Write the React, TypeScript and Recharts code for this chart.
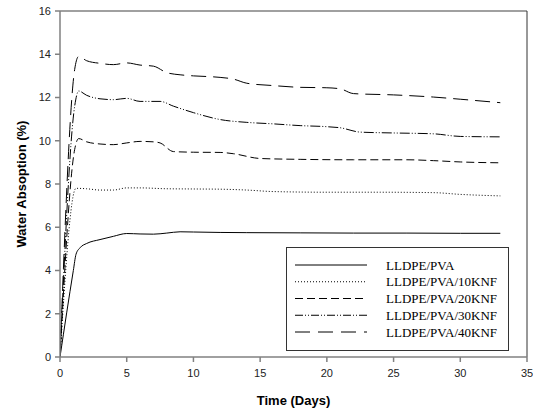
import React from 'react';
import { LineChart, Line, XAxis, YAxis, Legend, Label, ReferenceLine } from 'recharts';

const seriesNames = [
  'LLDPE/PVA',
  'LLDPE/PVA/10KNF',
  'LLDPE/PVA/20KNF',
  'LLDPE/PVA/30KNF',
  'LLDPE/PVA/40KNF',
];

const pvaDays = [0, 1, 1.2, 1.5, 2, 3, 4, 5, 6, 7, 8, 9, 10, 12, 14, 18, 22, 26, 30, 33];
const pvaValues = [0, 4.0, 4.75, 5.05, 5.25, 5.43, 5.58, 5.71, 5.69, 5.68, 5.73, 5.79, 5.78, 5.76, 5.75, 5.74, 5.73, 5.73, 5.72, 5.72];

const knf10Days = [0, 1.2, 2, 3, 4, 5, 6, 8, 10, 12, 14, 16, 20, 24, 28, 30, 33];
const knf10Values = [0, 7.8, 7.78, 7.72, 7.72, 7.82, 7.82, 7.78, 7.77, 7.76, 7.72, 7.65, 7.62, 7.62, 7.6, 7.52, 7.45];

const knf20Days = [0, 1.1, 1.4, 2, 3, 4, 5, 6, 7, 7.5, 8.5, 10, 12, 13, 15, 18, 22, 26, 28, 30, 33];
const knf20Values = [0, 9.6, 10.1, 9.95, 9.85, 9.82, 9.9, 9.97, 9.95, 9.9, 9.5, 9.47, 9.46, 9.4, 9.18, 9.14, 9.12, 9.12, 9.08, 9.02, 8.98];

const knf30Days = [0, 1.1, 1.4, 2, 3, 4, 5, 6, 7.5, 8.5, 10, 12, 14, 16, 18, 20, 21, 22.5, 25, 28, 30, 33];
const knf30Values = [0, 11.6, 12.3, 12.1, 11.94, 11.9, 11.96, 11.82, 11.82, 11.6, 11.3, 10.98, 10.85, 10.78, 10.7, 10.65, 10.6, 10.4, 10.36, 10.32, 10.2, 10.18];

const knf40Days = [0, 1.1, 1.4, 2, 3, 4, 5, 6, 7, 8, 9, 10, 12, 13, 14, 16, 18, 20, 21, 22, 25, 28, 30, 33];
const knf40Values = [0, 13.3, 13.9, 13.7, 13.58, 13.52, 13.6, 13.5, 13.45, 13.15, 13.05, 13.0, 12.93, 12.85, 12.66, 12.55, 12.47, 12.45, 12.4, 12.18, 12.12, 12.02, 11.92, 11.76];

const xTicks = [0, 5, 10, 15, 20, 25, 30, 35];
const yTicks = [0, 2, 4, 6, 8, 10, 12, 14, 16];

const toPoints = (days: number[], values: number[]) =>
  days.map((day, i) => ({ day, value: values[i] }));

const seriesData = [
  toPoints(pvaDays, pvaValues),
  toPoints(knf10Days, knf10Values),
  toPoints(knf20Days, knf20Values),
  toPoints(knf30Days, knf30Values),
  toPoints(knf40Days, knf40Values),
];

const plotDash = [undefined, '1 2', '8 4', '10 2 1 2 1 2', '15 7'];
const legendDash = [undefined, '1 2', '8 4', '8 2 1 2 1 2', '15 8'];

const tickStyle = { fill: '#222', fontSize: 11, fontFamily: '"Liberation Sans", Arial, sans-serif' };
const titleStyle = { fontSize: 13, fontWeight: 700, fontFamily: '"Liberation Sans", Arial, sans-serif', fill: '#000' };

const renderLegend = () => (
  <svg width={223} height={104} style={{ display: 'block' }}>
    <rect x={0.5} y={0.5} width={222} height={103} fill="#fff" stroke="#333" />
    {seriesNames.map((name, i) => {
      const y = 18 + i * 16.75;
      return (
        <g key={name}>
          <line x1={9} x2={81} y1={y} y2={y} stroke="#000" strokeWidth={1} strokeDasharray={legendDash[i]} />
          <text x={100} y={y} dominantBaseline="central" fontFamily='"Liberation Serif", "Times New Roman", serif' fontSize={13} fill="#000">
            {name}
          </text>
        </g>
      );
    })}
  </svg>
);

export default function App() {
  return (
    <div style={{ position: 'absolute', left: 0, top: 0, background: '#fff' }}>
      <LineChart width={533} height={411} margin={{ top: 11, right: 6, left: 0, bottom: 0 }}>
        <XAxis
          type="number"
          dataKey="day"
          domain={[0, 35]}
          ticks={xTicks}
          allowDataOverflow
          stroke="#808080"
          strokeWidth={1.5}
          tickSize={5}
          tickMargin={7}
          tick={tickStyle}
          height={54}
        >
          <Label value="Time (Days)" position="insideBottom" offset={6} style={titleStyle} />
        </XAxis>
        <YAxis
          type="number"
          dataKey="value"
          domain={[0, 16]}
          ticks={yTicks}
          allowDataOverflow
          stroke="#808080"
          strokeWidth={1.5}
          tickSize={5}
          tickMargin={4}
          tick={tickStyle}
          width={60}
        >
          <Label value="Water  Absoption (%)" angle={-90} position="insideLeft" offset={21} style={{ ...titleStyle, textAnchor: 'middle', whiteSpace: 'pre' }} />
        </YAxis>
        <ReferenceLine y={16} stroke="#808080" strokeWidth={1.5} />
        <ReferenceLine x={35} stroke="#333" strokeWidth={1} />
        {seriesData.map((data, i) => (
          <Line
            key={seriesNames[i]}
            data={data}
            dataKey="value"
            name={seriesNames[i]}
            type="monotone"
            stroke="#000"
            strokeWidth={1}
            strokeDasharray={plotDash[i]}
            dot={false}
            activeDot={false}
            isAnimationActive={false}
          />
        ))}
        <Legend
          layout="vertical"
          align="center"
          verticalAlign="middle"
          content={renderLegend}
          wrapperStyle={{ left: 286, top: 247, width: 223, height: 104 }}
        />
      </LineChart>
    </div>
  );
}
